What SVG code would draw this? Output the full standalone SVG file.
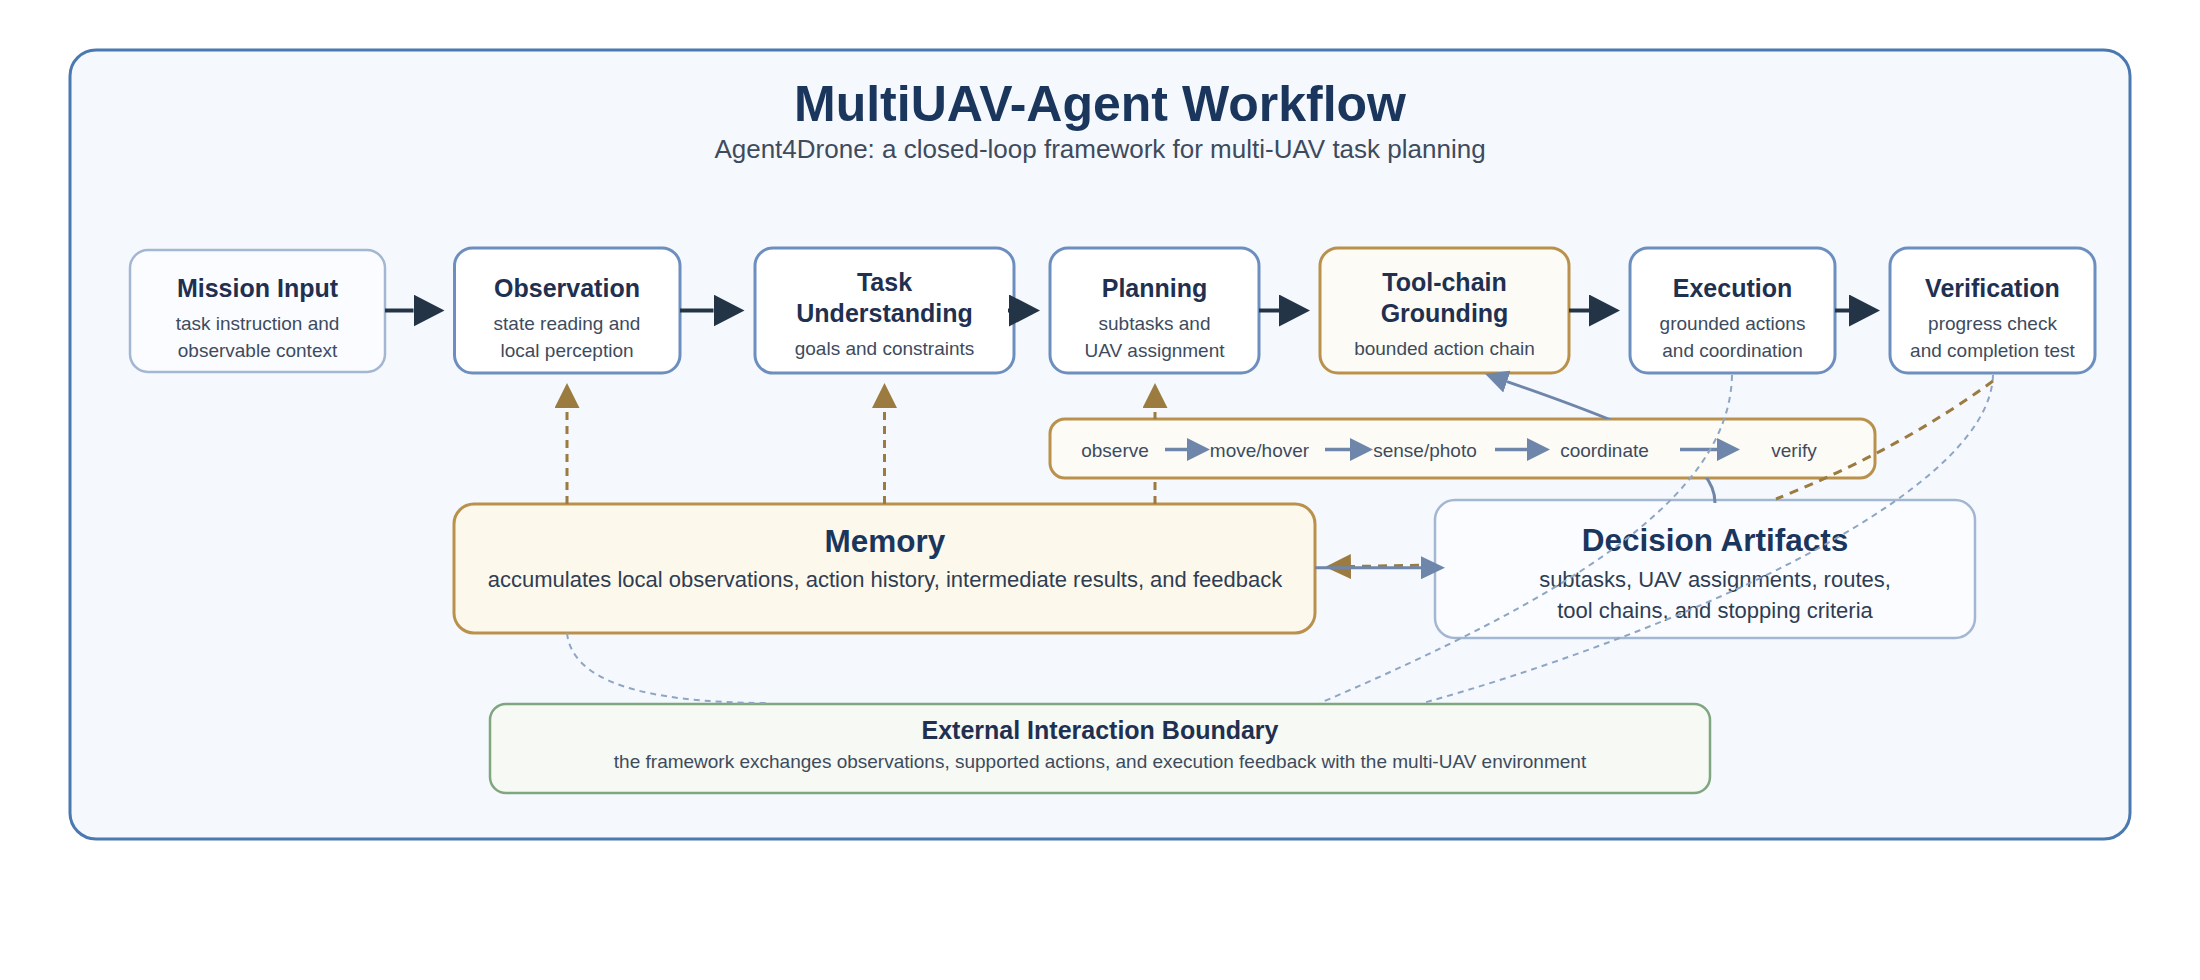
<svg xmlns="http://www.w3.org/2000/svg" width="2200" height="980" viewBox="0 0 2200 980">
  <style>
    .frame { fill: #f5f8fd; stroke: #4a78b0; stroke-width: 3; }
    .box { fill: #ffffff; stroke: #6d8fc0; stroke-width: 3; }
    .box-light { fill: #fafcff; stroke: #a3b6d2; stroke-width: 2.5; }
    .box-gold { fill: #fcfbf5; stroke: #b9914b; stroke-width: 3; }
    .box-mem { fill: #fdf8ec; stroke: #b9914b; stroke-width: 3; }
    .box-green { fill: #f6f9f4; stroke: #7fa67f; stroke-width: 2.5; }
    text { font-family: "Liberation Sans", Arial, sans-serif; text-anchor: middle; }
    .title { font-size: 50px; font-weight: bold; fill: #1b365d; }
    .subtitle { font-size: 26px; fill: #3e4b5d; }
    .ntitle { font-size: 25px; font-weight: bold; fill: #1f3050; }
    .nsub { font-size: 19px; fill: #3e4b5d; }
    .btitle { font-size: 31.5px; font-weight: bold; fill: #1b365d; }
    .bsub { font-size: 22px; fill: #2f3d52; }
    .chain { font-size: 19px; fill: #3e4b5d; }
    .flow { fill: none; stroke: #243447; stroke-width: 4; }
    .mem { fill: none; stroke: #9b7b3f; stroke-width: 3; stroke-dasharray: 8 6; }
    .gold-curve { fill: none; stroke: #9b7b3f; stroke-width: 3; stroke-dasharray: 9 7; }
    .slate { fill: none; stroke: #6e86a9; stroke-width: 3; }
    .chainarrow { fill: none; stroke: #6e86a9; stroke-width: 3.5; }
    .env { fill: none; stroke: #8ea6c4; stroke-width: 2; stroke-dasharray: 6 5; }
  </style>
  <defs>
    <marker id="mFlow" markerUnits="userSpaceOnUse" viewBox="0 0 31 32" markerWidth="31" markerHeight="32" refX="0" refY="16" orient="auto">
      <path d="M0,0 L31,16 L0,32 Z" fill="#243447"/>
    </marker>
    <marker id="mGold" markerUnits="userSpaceOnUse" viewBox="0 0 25 25" markerWidth="25" markerHeight="25" refX="0" refY="12.5" orient="auto">
      <path d="M0,0 L25,12.5 L0,25 Z" fill="#9b7b3f"/>
    </marker>
    <marker id="mGold2" markerUnits="userSpaceOnUse" viewBox="0 0 26 25" markerWidth="26" markerHeight="25" refX="0" refY="12.5" orient="auto">
      <path d="M0,0 L26,12.5 L0,25 Z" fill="#9b7b3f"/>
    </marker>
    <marker id="mSlate" markerUnits="userSpaceOnUse" viewBox="0 0 23 23" markerWidth="23" markerHeight="23" refX="0" refY="11.5" orient="auto">
      <path d="M0,0 L23,11.5 L0,23 Z" fill="#6e86a9"/>
    </marker>
    <marker id="mSlate2" markerUnits="userSpaceOnUse" viewBox="0 0 24 23" markerWidth="24" markerHeight="23" refX="0" refY="11.5" orient="auto">
      <path d="M0,0 L24,11.5 L0,23 Z" fill="#6e86a9"/>
    </marker>
    <mask id="hideChain" maskUnits="userSpaceOnUse" x="0" y="0" width="2200" height="980">
      <rect x="0" y="0" width="2200" height="980" fill="white"/>
      <rect x="1050" y="419" width="825" height="59" rx="15" fill="black"/>
    </mask>
  </defs>

  <rect id="frame" class="frame" x="70" y="50" width="2060" height="789" rx="26"/>

  <g id="header">
    <text class="title" x="1100" y="121">MultiUAV-Agent Workflow</text>
    <text class="subtitle" x="1100" y="158">Agent4Drone: a closed-loop framework for multi-UAV task planning</text>
  </g>

  <g id="mission-input">
    <rect class="box-light" x="130" y="250" width="255" height="122" rx="18"/>
    <text class="ntitle" x="257.5" y="297">Mission Input</text>
    <text class="nsub" x="257.5" y="330">task instruction and</text>
    <text class="nsub" x="257.5" y="357">observable context</text>
  </g>

  <g id="observation">
    <rect class="box" x="454.5" y="248" width="225.5" height="125" rx="18"/>
    <text class="ntitle" x="567" y="297">Observation</text>
    <text class="nsub" x="567" y="330">state reading and</text>
    <text class="nsub" x="567" y="357">local perception</text>
  </g>

  <g id="task-understanding">
    <rect class="box" x="755" y="248" width="259" height="125" rx="18"/>
    <text class="ntitle" x="884.5" y="291">Task</text>
    <text class="ntitle" x="884.5" y="322">Understanding</text>
    <text class="nsub" x="884.5" y="355">goals and constraints</text>
  </g>

  <g id="planning">
    <rect class="box" x="1050" y="248" width="209" height="125" rx="18"/>
    <text class="ntitle" x="1154.5" y="297">Planning</text>
    <text class="nsub" x="1154.5" y="330">subtasks and</text>
    <text class="nsub" x="1154.5" y="357">UAV assignment</text>
  </g>

  <g id="tool-chain-grounding">
    <rect class="box-gold" x="1320" y="248" width="249" height="125" rx="18"/>
    <text class="ntitle" x="1444.5" y="291">Tool-chain</text>
    <text class="ntitle" x="1444.5" y="322">Grounding</text>
    <text class="nsub" x="1444.5" y="355">bounded action chain</text>
  </g>

  <g id="execution">
    <rect class="box" x="1630" y="248" width="205" height="125" rx="18"/>
    <text class="ntitle" x="1732.5" y="297">Execution</text>
    <text class="nsub" x="1732.5" y="330">grounded actions</text>
    <text class="nsub" x="1732.5" y="357">and coordination</text>
  </g>

  <g id="verification">
    <rect class="box" x="1890" y="248" width="205" height="125" rx="18"/>
    <text class="ntitle" x="1992.5" y="297">Verification</text>
    <text class="nsub" x="1992.5" y="330">progress check</text>
    <text class="nsub" x="1992.5" y="357">and completion test</text>
  </g>

  <g id="action-chain">
    <rect class="box-gold" x="1050" y="419" width="825" height="59" rx="15"/>
    <text class="chain" x="1115" y="457">observe</text>
    <text class="chain" x="1259.5" y="457">move/hover</text>
    <text class="chain" x="1425" y="457">sense/photo</text>
    <text class="chain" x="1604.5" y="457">coordinate</text>
    <text class="chain" x="1794" y="457">verify</text>
    <path class="chainarrow" d="M1165,449.5 H1187" marker-end="url(#mSlate)"/>
    <path class="chainarrow" d="M1325,449.5 H1350" marker-end="url(#mSlate)"/>
    <path class="chainarrow" d="M1495,449.5 H1527" marker-end="url(#mSlate)"/>
    <path class="chainarrow" d="M1680,449.5 H1717" marker-end="url(#mSlate)"/>
  </g>

  <g id="memory">
    <rect class="box-mem" x="454" y="504" width="861" height="129" rx="20"/>
    <text class="btitle" x="885" y="552">Memory</text>
    <text class="bsub" x="885" y="587">accumulates local observations, action history, intermediate results, and feedback</text>
  </g>

  <g id="decision-artifacts">
    <rect class="box-light" x="1435" y="500" width="540" height="138" rx="20"/>
    <text class="btitle" x="1715" y="551">Decision Artifacts</text>
    <text class="bsub" x="1715" y="587">subtasks, UAV assignments, routes,</text>
    <text class="bsub" x="1715" y="618">tool chains, and stopping criteria</text>
  </g>

  <g id="external-boundary">
    <rect class="box-green" x="490" y="704" width="1220" height="89" rx="16"/>
    <text class="ntitle" x="1100" y="739">External Interaction Boundary</text>
    <text class="nsub" x="1100" y="768">the framework exchanges observations, supported actions, and execution feedback with the multi-UAV environment</text>
  </g>

  <g id="connectors">
    <path class="flow" d="M385,310.5 H413.5" marker-end="url(#mFlow)"/>
    <path class="flow" d="M680,310.5 H713.5" marker-end="url(#mFlow)"/>
    <path class="flow" d="M1008,310.5 H1009" marker-end="url(#mFlow)"/>
    <path class="flow" d="M1259,310.5 H1279" marker-end="url(#mFlow)"/>
    <path class="flow" d="M1569,310.5 H1589" marker-end="url(#mFlow)"/>
    <path class="flow" d="M1835,310.5 H1849" marker-end="url(#mFlow)"/>

    <g mask="url(#hideChain)">
      <path class="mem" d="M567,504 V408" marker-end="url(#mGold)"/>
      <path class="mem" d="M884.5,504 V408" marker-end="url(#mGold)"/>
      <path class="mem" d="M1155,504 V408" marker-end="url(#mGold)"/>
      <path class="slate" d="M1715,503 C1715,460 1650,431 1507,381.6" marker-end="url(#mSlate)"/>
    </g>

    <path class="env" d="M1732,375 C1730,500 1560,600 1320,703"/>
    <path class="env" d="M1993,375 C1990,500 1650,640 1423,703"/>
    <path class="env" d="M567,633 C572,680 640,703 770,703"/>

    <path class="gold-curve" d="M1993,381 Q1899,450 1776,499"/>

    <path class="gold-curve" d="M1435,565 L1351,566.5" marker-end="url(#mGold2)"/>
    <path class="slate" d="M1315,567.7 H1421" marker-end="url(#mSlate2)"/>
  </g>
</svg>
